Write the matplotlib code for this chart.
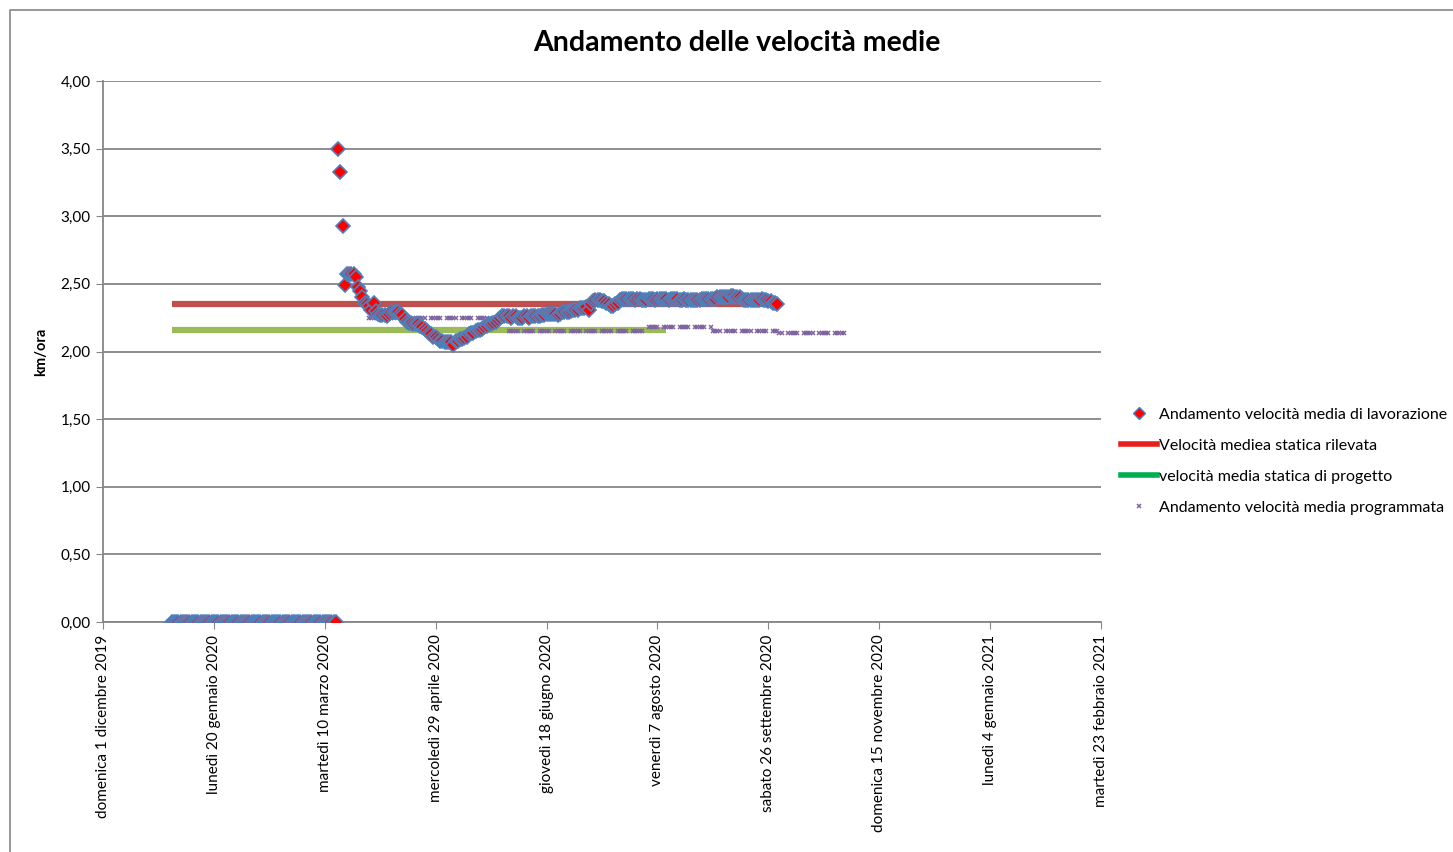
import matplotlib
matplotlib.use('Agg')
import matplotlib.pyplot as plt
from matplotlib.lines import Line2D
import numpy as np
import pandas as pd

plt.rcParams['font.family'] = ['Lato', 'DejaVu Sans']

# ------------------------------------------------------------
# Data
# ------------------------------------------------------------
zero_start, zero_end = '2020-01-01', '2020-03-15'   # period with speed = 0
work_start = '2020-03-16'                            # first day with real speed

# daily average working speed (km/ora), from 16 Mar 2020, one row per week
work_speed = [
    3.50, 3.33, 2.93, 2.49, 2.57, 2.57, 2.57,
    2.57, 2.55, 2.48, 2.45, 2.40, 2.36, 2.35,
    2.34, 2.31, 2.36, 2.30, 2.28, 2.27, 2.27,
    2.27, 2.26, 2.28, 2.29, 2.29, 2.29, 2.29,
    2.28, 2.27, 2.24, 2.22, 2.21, 2.21, 2.20,
    2.20, 2.20, 2.19, 2.18, 2.17, 2.15, 2.14,
    2.13, 2.11, 2.11, 2.09, 2.08, 2.08, 2.07,
    2.07, 2.07, 2.07, 2.05, 2.08, 2.08, 2.09,
    2.09, 2.10, 2.11, 2.13, 2.14, 2.14, 2.15,
    2.16, 2.16, 2.17, 2.18, 2.19, 2.20, 2.20,
    2.21, 2.22, 2.23, 2.25, 2.26, 2.26, 2.26,
    2.26, 2.25, 2.26, 2.26, 2.25, 2.25, 2.25,
    2.26, 2.26, 2.25, 2.26, 2.26, 2.26, 2.26,
    2.26, 2.27, 2.27, 2.28, 2.28, 2.28, 2.28,
    2.28, 2.27, 2.28, 2.29, 2.29, 2.29, 2.29,
    2.30, 2.31, 2.31, 2.31, 2.32, 2.32, 2.32,
    2.33, 2.31, 2.35, 2.37, 2.38, 2.38, 2.38,
    2.37, 2.37, 2.36, 2.35, 2.34, 2.34, 2.35,
    2.36, 2.38, 2.39, 2.39, 2.39, 2.39, 2.39,
    2.39, 2.38, 2.39, 2.39, 2.38, 2.38, 2.38,
    2.39, 2.39, 2.39, 2.38, 2.39, 2.39, 2.39,
    2.39, 2.39, 2.38, 2.39, 2.39, 2.39, 2.39,
    2.38, 2.38, 2.39, 2.38, 2.38, 2.38, 2.38,
    2.38, 2.38, 2.38, 2.39, 2.39, 2.39, 2.39,
    2.39, 2.39, 2.39, 2.40, 2.40, 2.40, 2.40,
    2.40, 2.40, 2.41, 2.41, 2.40, 2.40, 2.40,
    2.39, 2.38, 2.38, 2.38, 2.38, 2.38, 2.38,
    2.38, 2.38, 2.39, 2.38, 2.38, 2.37, 2.37,
    2.36, 2.36, 2.35,
]

# static averages (horizontal lines)
line_start = '2020-01-01'
rilevata_end, rilevata_val = '2020-09-30', 2.35
progetto_end, progetto_val = '2020-08-11', 2.16

# programmed speed: (from, to, km/ora), working days only
prog_steps = [
    ('2020-03-30', '2020-05-29', 2.25),
    ('2020-06-01', '2020-07-31', 2.15),
    ('2020-08-03', '2020-08-31', 2.18),
    ('2020-09-01', '2020-09-30', 2.155),
    ('2020-10-01', '2020-10-30', 2.14),
]

x_ticks = ['2019-12-01', '2020-01-20', '2020-03-10', '2020-04-29', '2020-06-18',
           '2020-08-07', '2020-09-26', '2020-11-15', '2021-01-04', '2021-02-23']
x_ticklabels = ['domenica 1 dicembre 2019', 'lunedì 20 gennaio 2020',
                'martedì 10 marzo 2020', 'mercoledì 29 aprile 2020',
                'giovedì 18 giugno 2020', 'venerdì 7 agosto 2020',
                'sabato 26 settembre 2020', 'domenica 15 novembre 2020',
                'lunedì 4 gennaio 2021', 'martedì 23 febbraio 2021']
y_ticks = [0, 0.5, 1.0, 1.5, 2.0, 2.5, 3.0, 3.5, 4.0]

labels = ['Andamento velocità media di lavorazione',
          'Velocità mediea statica rilevata',
          'velocità media statica di progetto',
          'Andamento velocità media programmata']

# ------------------------------------------------------------
zero_dates = pd.date_range(zero_start, zero_end, freq='D')
work_dates = pd.date_range(work_start, periods=len(work_speed), freq='D')
w_dates = zero_dates.append(work_dates)
w_vals = np.concatenate([np.zeros(len(zero_dates)), work_speed])

p_dates, p_vals = [], []
for a, b, v in prog_steps:
    d = pd.bdate_range(a, b)
    p_dates.extend(d)
    p_vals.extend([v] * len(d))

GRAY = '#868686'
fig = plt.figure(figsize=(14.53, 8.52), dpi=100)
ax = fig.add_axes([103 / 1453, 1 - 622 / 852, 998 / 1453, 541 / 852])

ax.plot(pd.to_datetime([line_start, progetto_end]), [progetto_val] * 2,
        color='#9BBB59', lw=4.5, solid_capstyle='butt', zorder=2)
ax.plot(pd.to_datetime([line_start, rilevata_end]), [rilevata_val] * 2,
        color='#C0504D', lw=4.5, solid_capstyle='butt', zorder=2)
ax.plot(p_dates, p_vals, ls='none', marker='x', ms=3, mew=1.1,
        color='#8064A2', zorder=3)
ax.plot(w_dates, w_vals, ls='none', marker='D', ms=7, mfc='#FF0000',
        mec='#4F81BD', mew=1.2, zorder=4)

ax.set_xlim(pd.Timestamp(x_ticks[0]), pd.Timestamp(x_ticks[-1]))
ax.set_ylim(0, 4)
ax.set_xticks(pd.to_datetime(x_ticks))
ax.set_xticklabels(x_ticklabels, rotation=90, fontsize=11)
ax.set_yticks(y_ticks)
ax.set_yticklabels([f'{v:.2f}'.replace('.', ',') for v in y_ticks], fontsize=11)
ax.tick_params(axis='both', direction='out', length=5, color=GRAY, pad=4)
ax.yaxis.grid(True, color=GRAY, lw=1.3)
ax.set_axisbelow(True)
for s in ['top', 'right']:
    ax.spines[s].set_visible(False)
for s in ['left', 'bottom']:
    ax.spines[s].set_color(GRAY)
    ax.spines[s].set_linewidth(1.3)
ax.set_ylabel('km/ora', fontsize=10.5, fontweight='bold', labelpad=9)

fig.text(737 / 1453, 1 - 43 / 852, 'Andamento delle velocità medie',
         ha='center', va='center', fontsize=20.5, fontweight='bold')

handles = [
    Line2D([], [], ls='none', marker='D', ms=6.5, mfc='#FF0000', mec='#4F81BD'),
    Line2D([], [], color='#E8201B', lw=4),
    Line2D([], [], color='#00B050', lw=4),
    Line2D([], [], ls='none', marker='x', ms=3, mew=1.1, color='#8064A2'),
]
fig.legend(handles, labels, loc='center left',
           bbox_to_anchor=(1107 / 1453, 1 - 461 / 852), frameon=False,
           fontsize=11.5, handlelength=2.2, handletextpad=0.15, labelspacing=1.05)

# outer chart-area frame (only left and top edges are inside the picture)
fig.add_artist(Line2D([10 / 1453, 10 / 1453, 1], [0, 1 - 10 / 852, 1 - 10 / 852],
                      color=GRAY, lw=1.2, transform=fig.transFigure))

fig.savefig('out.png', dpi=100)
